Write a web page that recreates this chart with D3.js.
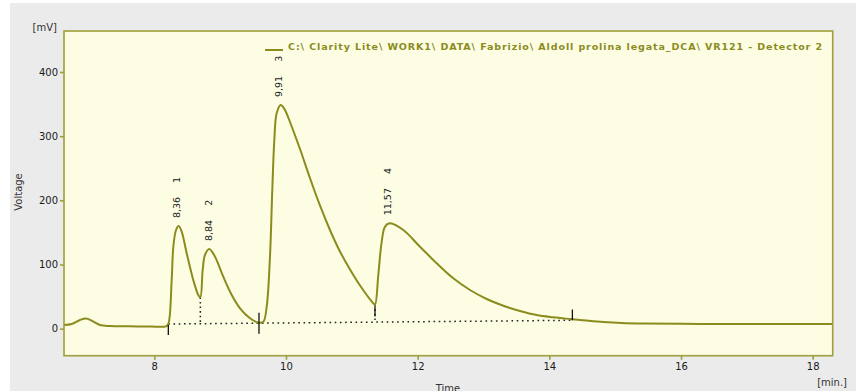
<!DOCTYPE html>
<html><head><meta charset="utf-8">
<script src="https://cdn.jsdelivr.net/npm/d3@7"></script>
<style>
html,body{margin:0;padding:0;background:#fff;}
svg{display:block;}
text{font-family:"DejaVu Sans",Verdana,sans-serif;}
</style></head>
<body>
<svg id="chart" width="856" height="391"></svg>
<script>
// ---- data ----
const times = [6.629,6.745,6.871,6.963,7.049,7.175,7.327,7.631,7.935,8.178,8.213,8.264,8.289,8.330,8.371,8.416,8.492,8.592,8.668,8.699,8.735,8.770,8.835,8.922,9.048,9.176,9.302,9.454,9.580,9.656,9.707,9.757,9.792,9.823,9.859,9.920,9.955,10.000,10.061,10.213,10.364,10.516,10.668,10.820,10.973,11.125,11.326,11.352,11.402,11.454,11.504,11.580,11.782,12.035,12.289,12.541,12.795,13.048,13.301,13.554,13.808,14.060,14.314,14.567,14.82,15.1,15.43,16.29,17.2,18.30];
const voltage = [5.8,7.3,13.6,16.0,12.5,5.8,4.2,3.7,3.5,3.7,7.3,75.9,127.8,153.8,160.0,151.2,117.5,75.9,52.5,48.9,91.5,114.9,124.2,112.2,81.0,52.5,31.8,16.2,9.4,10.9,34.3,112.2,216.1,294.1,336.1,348.6,345.5,337.7,322.1,280.0,234.8,192.0,153.8,120.3,92.3,67.3,39.6,37.4,83.7,135.6,159.0,164.3,153.8,127.8,101.9,78.5,60.3,46.3,35.8,27.6,21.3,17.8,15.1,12.6,10.4,8.8,8.0,7.5,7.5,7.5];
const peakTimes = [8.36, 8.84, 9.91, 11.57];
const peakHeights = [160.0, 124.2, 348.6, 164.3];
const peakLabels = ["8,36", "8,84", "9,91", "11,57"];
const peakNumbers = ["1", "2", "3", "4"];
const baselineTimes = [8.213, 14.35];
const baselineValues = [7.3, 13.1];
const dropTimes = [8.699, 11.352];
const dropTops = [48.9, 37.4];
const markTimes = [8.213, 9.59, 11.352, 14.35];
const markTops = [5.8, 25, 35, 30];
const markBottoms = [-10, -8, 19, 13.1];
const xTicks = [8, 10, 12, 14, 16, 18];
const yTicks = [0, 100, 200, 300, 400];
const legendText = "C:\\ Clarity Lite\\ WORK1\\ DATA\\ Fabrizio\\ Aldoll prolina legata_DCA\\ VR121 - Detector 2";

// ---- layout ----
const svg = d3.select("#chart");
const L = 64, R = 832.7, T = 31, B = 355.7;
const x = d3.scaleLinear().domain([8, 18]).range([154.3, 812.7]);
const y = d3.scaleLinear().domain([0, 400]).range([328.7, 72]);
const olive = "#8b8b1e";
const frame = "#9e9e3a";

svg.append("rect").attr("x", 10).attr("y", 3).attr("width", 846).attr("height", 388).attr("fill", "#ebebeb");
svg.append("rect").attr("x", L).attr("y", T).attr("width", R - L).attr("height", B - T).attr("fill", "#fcfde3");

svg.append("clipPath").attr("id", "clip").append("rect")
  .attr("x", L).attr("y", T).attr("width", R - L).attr("height", B - T);

const g = svg.append("g").attr("clip-path", "url(#clip)");

// baseline (dotted)
g.append("line")
  .attr("x1", x(baselineTimes[0])).attr("y1", y(baselineValues[0]))
  .attr("x2", x(baselineTimes[1])).attr("y2", y(baselineValues[1]))
  .attr("stroke", "#222").attr("stroke-width", 1.5).attr("stroke-dasharray", "1.6,3.6");

const baseAt = t => baselineValues[0] + (t - baselineTimes[0]) / (baselineTimes[1] - baselineTimes[0]) * (baselineValues[1] - baselineValues[0]);

// drop lines (dotted)
dropTimes.forEach((t, i) => {
  g.append("line").attr("x1", x(t)).attr("x2", x(t))
    .attr("y1", y(dropTops[i])).attr("y2", y(baseAt(t)))
    .attr("stroke", "#222").attr("stroke-width", 1.5).attr("stroke-dasharray", "1.6,3");
});

// chromatogram
const pts = times.map((t, i) => [t, voltage[i]]);
g.append("path").datum(pts)
  .attr("d", d3.line().x(d => x(d[0])).y(d => y(d[1])).curve(d3.curveCatmullRom.alpha(0.5)))
  .attr("fill", "none").attr("stroke", olive).attr("stroke-width", 2);

// peak boundary marks
markTimes.forEach((t, i) => {
  g.append("line").attr("x1", x(t)).attr("x2", x(t))
    .attr("y1", y(markTops[i])).attr("y2", y(markBottoms[i]))
    .attr("stroke", "#111").attr("stroke-width", 1.3);
});

// frame
svg.append("rect").attr("x", L).attr("y", T).attr("width", R - L).attr("height", B - T)
  .attr("fill", "none").attr("stroke", frame).attr("stroke-width", 1.6);

// axes
const yAxis = svg.append("g").attr("transform", `translate(${L},0)`)
  .call(d3.axisLeft(y).tickValues(yTicks).tickSize(4).tickPadding(2).tickFormat(d3.format("d")));
const xAxis = svg.append("g").attr("transform", `translate(0,${B})`)
  .call(d3.axisBottom(x).tickValues(xTicks).tickSize(4).tickPadding(3).tickFormat(d3.format("d")));
[yAxis, xAxis].forEach(a => {
  a.select(".domain").remove();
  a.selectAll(".tick line").attr("stroke", frame).attr("stroke-width", 1.6);
  a.selectAll(".tick text").attr("fill", "#1a1a1a").attr("font-size", 10)
    .attr("font-family", "'DejaVu Sans',Verdana,sans-serif");
});

// axis labels
svg.append("text").attr("x", 57).attr("y", 31).attr("text-anchor", "end")
  .attr("font-size", 10).attr("fill", "#333").text("[mV]");
svg.append("text").attr("transform", "translate(22,192) rotate(-90)").attr("text-anchor", "middle")
  .attr("font-size", 10).attr("fill", "#333").text("Voltage");
svg.append("text").attr("x", 448).attr("y", 392).attr("text-anchor", "middle")
  .attr("font-size", 10).attr("fill", "#333").text("Time");
svg.append("text").attr("x", 847).attr("y", 386).attr("text-anchor", "end")
  .attr("font-size", 10).attr("fill", "#333").text("[min.]");

// peak labels
peakTimes.forEach((t, i) => {
  const px = x(t) + 2, py = y(peakHeights[i]) - 8;
  const lab = svg.append("text").attr("transform", `translate(${px},${py}) rotate(-90)`)
    .attr("font-size", 9.5).attr("fill", "#1a1a1a").text(peakLabels[i]);
  const w = lab.node().getComputedTextLength();
  svg.append("text").attr("transform", `translate(${px},${py - w - 17}) rotate(-90)`)
    .attr("text-anchor", "middle").attr("font-size", 9.5).attr("fill", "#1a1a1a").text(peakNumbers[i]);
});

// legend
svg.append("line").attr("x1", 265).attr("x2", 283).attr("y1", 50).attr("y2", 50)
  .attr("stroke", olive).attr("stroke-width", 2);
svg.append("text").attr("x", 288).attr("y", 50).attr("font-size", 9.5).attr("font-weight", "bold")
  .attr("fill", olive).attr("textLength", 534).attr("lengthAdjust", "spacing").text(legendText);
</script>
</body></html>
